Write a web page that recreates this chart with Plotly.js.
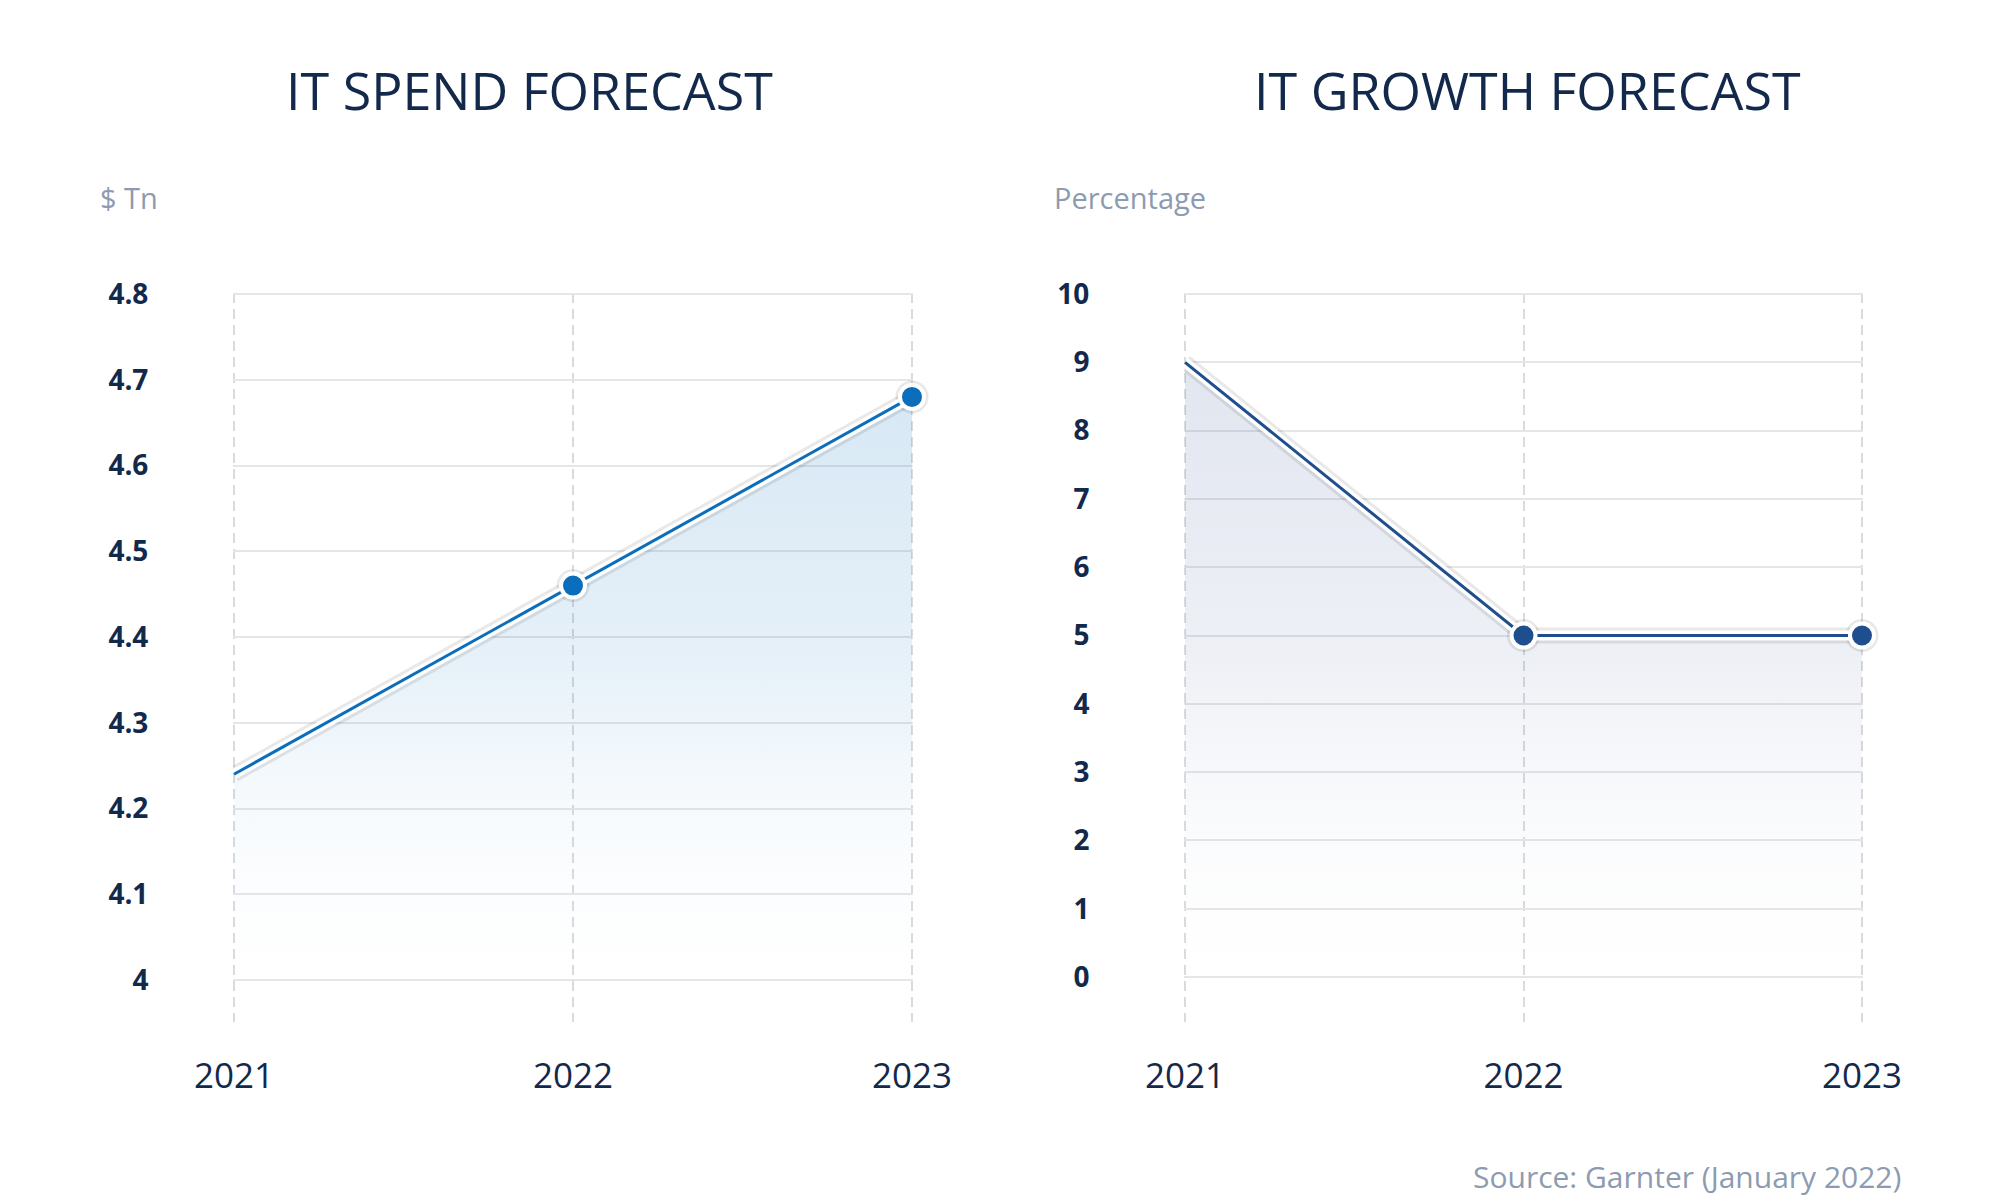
<!DOCTYPE html>
<html>
<head>
<meta charset="utf-8">
<script src="https://cdn.plot.ly/plotly-3.0.1.min.js"></script>
<style>
  html, body { margin: 0; padding: 0; background: #ffffff; }
  #chart { width: 2000px; height: 1200px; }
</style>
</head>
<body>
<div id="chart"></div>
<script>
// ---- data ----
const years = [2021, 2022, 2023];
const itSpend = [4.24, 4.46, 4.68];        // $ Tn
const itGrowth = [9.0, 5.0, 5.0];          // Percentage
const markerVisible = [0, 1, 1];
const spendTickVals = [4, 4.1, 4.2, 4.3, 4.4, 4.5, 4.6, 4.7, 4.8];
const spendTickText = ["4", "4.1", "4.2", "4.3", "4.4", "4.5", "4.6", "4.7", "4.8"];
const growthTickVals = [0, 1, 2, 3, 4, 5, 6, 7, 8, 9, 10];
const growthTickText = ["0", "1", "2", "3", "4", "5", "6", "7", "8", "9", "10"];
const yearTickText = ["2021", "2022", "2023"];
const titles = ["IT SPEND FORECAST", "IT GROWTH FORECAST"];
const unitLabels = ["$ Tn", "Percentage"];
const sourceText = "Source: Garnter (January 2022)";

// ---- styles ----
const FONT = "Open Sans, Noto Sans, sans-serif";
const NAVY = "#13294b";
const GREY = "#8d9bb0";
const blue1 = "#0a6ebd";
const blue2 = "#1f4e8f";

function seriesTraces(xa, ya, yvals, color, fillTop, fillMid, gStart, gStop) {
  return [
    { x: years, y: yvals, xaxis: xa, yaxis: ya, type: "scatter", mode: "lines",
      line: { width: 0, color: "rgba(0,0,0,0)" }, fill: "tozeroy",
      fillgradient: { type: "vertical", start: gStart, stop: gStop,
        colorscale: [[0, "rgba(255,255,255,0)"], [0.5, fillMid], [1, fillTop]] },
      hoverinfo: "skip", cliponaxis: true },
    { x: years, y: yvals, xaxis: xa, yaxis: ya, type: "scatter", mode: "lines+markers",
      line: { width: 16, color: "rgba(0,0,0,0.09)" },
      marker: { size: 33, color: "rgba(0,0,0,0.09)", opacity: markerVisible },
      hoverinfo: "skip", cliponaxis: false },
    { x: years, y: yvals, xaxis: xa, yaxis: ya, type: "scatter", mode: "lines",
      line: { width: 10, color: "#ffffff" }, hoverinfo: "skip", cliponaxis: false },
    { x: years, y: yvals, xaxis: xa, yaxis: ya, type: "scatter", mode: "lines+markers",
      line: { width: 3, color: color },
      marker: { size: 24, color: color, opacity: markerVisible, line: { width: 4, color: "#ffffff" } },
      cliponaxis: false }
  ];
}

const data = []
  .concat(seriesTraces("x", "y", itSpend, blue1, "rgba(0,110,190,0.18)", "rgba(0,110,190,0.1)", 3.95, 4.8))
  .concat(seriesTraces("x2", "y2", itGrowth, blue2, "rgba(40,70,140,0.15)", "rgba(40,70,140,0.08)", -0.66, 10));

const xCommon = {
  type: "linear", range: [2020.997, 2023.003], tickvals: years, ticktext: yearTickText,
  showgrid: true, gridcolor: "#d9dbde", gridwidth: 2, griddash: "10px,6px",
  zeroline: false, showline: false,
  ticks: "outside", ticklen: 23, tickcolor: "rgba(0,0,0,0)",
  tickfont: { family: FONT, size: 35, color: NAVY, weight: 500 },
  fixedrange: true
};
const yCommon = {
  type: "linear", showgrid: true, gridcolor: "#e4e6e9", gridwidth: 2,
  zeroline: false, showline: false,
  ticks: "outside", tickcolor: "rgba(0,0,0,0)",
  tickfont: { family: FONT, size: 28, color: NAVY, weight: 700 },
  fixedrange: true
};

const yBottom = 1 - 1022 / 1200;
const yTop = 1 - 293 / 1200;

const layout = {
  width: 2000, height: 1200,
  margin: { l: 0, r: 0, t: 0, b: 0 },
  paper_bgcolor: "#ffffff", plot_bgcolor: "#ffffff",
  showlegend: false,
  hovermode: false,
  xaxis: Object.assign({}, xCommon, { domain: [233 / 2000, 913 / 2000], anchor: "y" }),
  xaxis2: Object.assign({}, xCommon, { domain: [1184 / 2000, 1863 / 2000], anchor: "y2" }),
  yaxis: Object.assign({}, yCommon, { domain: [yBottom, yTop], range: [3.951, 4.8012],
    tickvals: spendTickVals, ticktext: spendTickText, ticklen: 78, anchor: "x" }),
  yaxis2: Object.assign({}, yCommon, { domain: [yBottom, yTop], range: [-0.658, 10.015],
    tickvals: growthTickVals, ticktext: growthTickText, ticklen: 88, anchor: "x2" }),
  annotations: [
    { text: titles[0], xref: "paper", yref: "paper", x: 529 / 2000, y: 1 - 89 / 1200,
      xanchor: "center", yanchor: "middle", showarrow: false,
      font: { family: FONT, size: 52, color: NAVY, weight: 500 } },
    { text: titles[1], xref: "paper", yref: "paper", x: 1527 / 2000, y: 1 - 89 / 1200,
      xanchor: "center", yanchor: "middle", showarrow: false,
      font: { family: FONT, size: 52, color: NAVY, weight: 500 } },
    { text: unitLabels[0], xref: "paper", yref: "paper", x: 98 / 2000, y: 1 - 197 / 1200,
      xanchor: "left", yanchor: "middle", showarrow: false,
      font: { family: FONT, size: 29, color: GREY, weight: 500 } },
    { text: unitLabels[1], xref: "paper", yref: "paper", x: 1052 / 2000, y: 1 - 197 / 1200,
      xanchor: "left", yanchor: "middle", showarrow: false,
      font: { family: FONT, size: 29, color: GREY, weight: 500 } },
    { text: sourceText, xref: "paper", yref: "paper", x: 1903 / 2000, y: 1 - 1176 / 1200,
      xanchor: "right", yanchor: "middle", showarrow: false,
      font: { family: FONT, size: 30, color: GREY, weight: 500 } }
  ]
};

Plotly.newPlot("chart", data, layout, { staticPlot: true, displayModeBar: false });
</script>
</body>
</html>
